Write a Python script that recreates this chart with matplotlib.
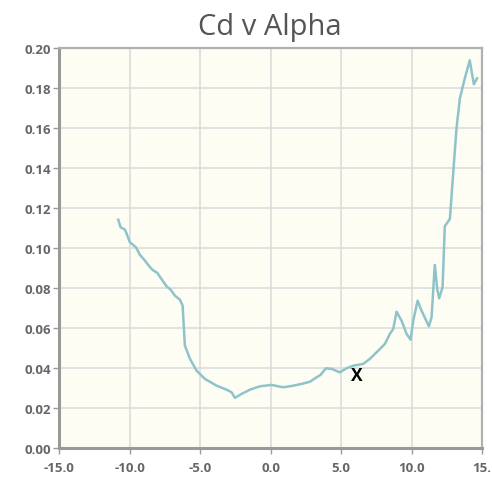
import matplotlib
matplotlib.use("Agg")
import matplotlib.pyplot as plt

# Drag coefficient against angle of attack
alpha = [-10.81, -10.64, -10.33, -9.98, -9.55, -9.27, -8.91, -8.61, -8.37, -8.04,
         -7.66, -7.38, -7.09, -6.79, -6.43, -6.24, -6.15, -6.08, -5.72, -5.25,
         -4.66, -3.83, -3.12, -2.77, -2.53, -2.06, -1.47, -0.76, 0.07, 0.89,
         1.60, 2.20, 2.79, 3.26, 3.55, 3.92, 4.33, 4.91, 5.39, 5.86,
         6.57, 7.04, 7.63, 8.11, 8.46, 8.70, 8.94, 9.29, 9.65, 9.93,
         10.12, 10.43, 10.71, 11.23, 11.42, 11.65, 11.82, 11.96, 12.20, 12.36,
         12.72, 12.96, 13.19, 13.43, 13.78, 14.13, 14.42, 14.65]
cd = [0.1143, 0.1105, 0.1093, 0.1030, 0.1005, 0.0967, 0.0938, 0.0910, 0.0892, 0.0877,
      0.0838, 0.0810, 0.0793, 0.0763, 0.0743, 0.0713, 0.0597, 0.0513, 0.0447, 0.0388,
      0.0347, 0.0313, 0.0293, 0.0280, 0.0252, 0.0272, 0.0293, 0.0310, 0.0317, 0.0305,
      0.0313, 0.0322, 0.0333, 0.0355, 0.0367, 0.0400, 0.0397, 0.0380, 0.0400, 0.0413,
      0.0422, 0.0447, 0.0488, 0.0522, 0.0572, 0.0597, 0.0683, 0.0638, 0.0572, 0.0543,
      0.0638, 0.0738, 0.0688, 0.0610, 0.0655, 0.0917, 0.0797, 0.0750, 0.0805, 0.1110,
      0.1147, 0.1380, 0.1600, 0.1750, 0.1850, 0.1940, 0.1820, 0.1850]

x_ticks = [-15, -10, -5, 0, 5, 10, 15]
x_labels = ["-15.0", "-10.0", "-5.0", "0.0", "5.0", "10.0", "15."]
y_ticks = [0.00, 0.02, 0.04, 0.06, 0.08, 0.10, 0.12, 0.14, 0.16, 0.18, 0.20]

marker_pos = (6.12, 0.0367)

plt.rcParams['font.family'] = ['Open Sans', 'DejaVu Sans']

fig = plt.figure(figsize=(4.92, 4.81), dpi=100)
ax = fig.add_axes([0.1203, 0.0659, 0.8594, 0.8316])
ax.set_facecolor("#fdfdf4")

ax.plot(alpha, cd, color="#8ec4c9", lw=1.8, solid_joinstyle="round")
ax.text(marker_pos[0], marker_pos[1], "X", ha="center", va="center",
        fontsize=12.5, fontweight="bold", color="black")

ax.set_xlim(-15, 15)
ax.set_ylim(0, 0.20)
ax.set_xticks(x_ticks)
ax.set_xticklabels(x_labels)
ax.set_yticks(y_ticks)
ax.set_yticklabels([f"{v:.2f}" for v in y_ticks])

ax.grid(True, color="#dcdcdc", lw=1.2)
ax.set_axisbelow(True)
ax.tick_params(axis="both", labelsize=9.5, colors="#999999", labelcolor="#666666",
               length=4, width=1, pad=2)
ax.tick_params(axis="x", pad=5)
for lbl in ax.get_xticklabels() + ax.get_yticklabels():
    lbl.set_fontweight("bold")

for side in ["left", "bottom"]:
    ax.spines[side].set_color("#999999")
    ax.spines[side].set_linewidth(2.2)
for side in ["top", "right"]:
    ax.spines[side].set_color("#b0b0b0")
    ax.spines[side].set_linewidth(1.6)

fig.text(0.548, 0.912, "Cd v Alpha", ha="center", va="bottom",
         fontsize=21, color="#555555")

fig.savefig("out.png", dpi=100)
